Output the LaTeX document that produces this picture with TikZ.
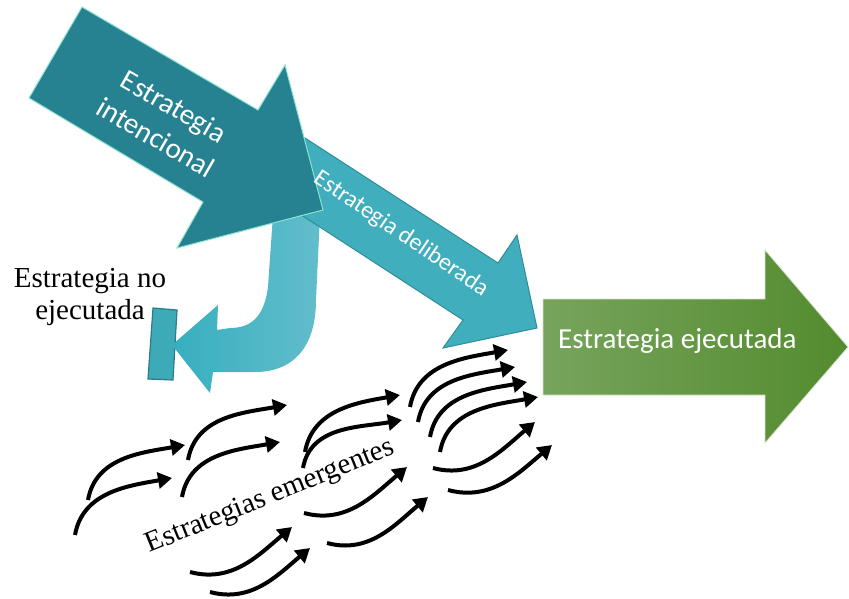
\documentclass[tikz,border=0pt]{standalone}
\usepackage{fontspec}
\setmainfont{Liberation Serif}
\newfontfamily\calibri{Carlito}
\usepackage{tikz}
\usetikzlibrary{shapes, arrows.meta, positioning}

\definecolor{tealdark}{HTML}{268291}
\definecolor{tealedge}{HTML}{8BE3D3}
\definecolor{tealmid}{HTML}{40AEBC}
\definecolor{tealmidedge}{HTML}{2F8D99}
\definecolor{turnleft}{HTML}{36AFBF}
\definecolor{turnright}{HTML}{63BDCB}
\definecolor{blockfill}{HTML}{3DAAB8}
\definecolor{blockedge}{HTML}{2B7C87}
\definecolor{greenleft}{HTML}{77A45C}
\definecolor{greenright}{HTML}{538B2E}

\tikzset{
  emergup/.style={line width=4pt, -{Triangle[length=14pt,width=16pt]}},
  emergdown/.style={line width=4pt, -{Triangle[length=14pt,width=16pt]}}
}

\begin{document}
\begin{tikzpicture}[x=1pt,y=-1pt]

\useasboundingbox (0,0) rectangle (849,598);

% Not executed block
\draw[blockedge, fill=blockfill, line width=1.2pt]
    (153,308) -- (177,310) -- (173,380) -- (148,379) -- cycle;

% U-turn arrow
\shade[left color=turnleft, right color=turnright]
    (273,215) -- (268,287) .. controls (264,318) and (250,328) .. (230,328)
    -- (217,330) -- (218,305) -- (172,345) -- (210,393) -- (213,372)
    -- (255,372) .. controls (295,372) and (316,345) .. (316,300)
    -- (320,215) -- cycle;

% Deliberate strategy arrow
\draw[tealmidedge, fill=tealmid, line width=1pt]
    (305,138) -- (498,263) -- (517,235) -- (537,328) -- (443,348)
    -- (463,320) -- (269,194) -- cycle;

% Intended strategy arrow
\draw[tealedge, fill=tealdark, line width=1pt]
    (82,7) -- (258,110) -- (285,65) -- (323,210) -- (177,248)
    -- (203,202) -- (29,98) -- cycle;

% Realized strategy arrow
\draw[white!70!greenleft, left color=greenleft, right color=greenright, line width=0.8pt]
    (543,299) -- (765,299) -- (765,250) -- (848,347) -- (765,443)
    -- (765,395) -- (543,395) -- cycle;

% Texts
\node[text=white,
    rotate=-30,
    align=center,
    font=\calibri\fontsize{29}{36}\selectfont
] (intended) at (165,122) {Estrategia\\intencional};

\node[text=white,
    rotate=-34,
    font=\calibri\fontsize{24}{28}\selectfont
] (deliberate) at (401,234) {Estrategia deliberada};

\node[text=white,
    anchor=base west,
    inner sep=0,
    font=\calibri\fontsize{29}{36}\selectfont
] (realized) at (558,348) {Estrategia ejecutada};

\node[align=center,
    inner sep=0,
    font=\fontsize{29}{32}\selectfont
] (unrealized) at (90,297) {Estrategia no\\ejecutada};

\node[rotate=22,
    anchor=base,
    inner sep=0,
    font=\fontsize{29}{34}\selectfont
] (emergent) at (273,503) {Estrategias emergentes};

% Emergent arrows
\foreach \sx/\sy/\tx/\ty in {75/535/172/478, 88/500/185/445, 182/497/280/442,
    188/460/287/405, 305/452/400/395, 303/468/402/420, 410/407/508/350,
    418/422/515/367, 430/437/527/382, 440/452/538/397}
  \draw[emergup] (\sx,\sy) to[out=80, in=190] (\tx,\ty);

\foreach \sx/\sy/\tx/\ty in {190/572/292/527, 210/592/310/548, 304/513/407/467,
    327/543/428/497, 433/468/535/422, 448/490/552/445}
  \draw[emergdown] (\sx,\sy) to[out=-15, in=220] (\tx,\ty);

\end{tikzpicture}
\end{document}
